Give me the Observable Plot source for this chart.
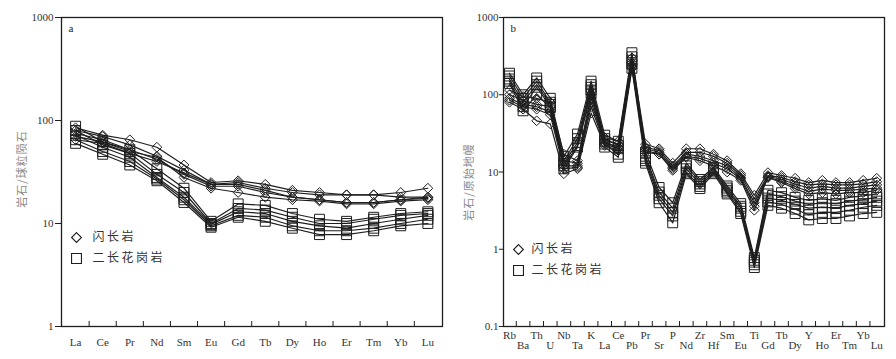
<!DOCTYPE html>
<html><head><meta charset="utf-8">
<script src="https://cdn.jsdelivr.net/npm/d3@7"></script>
<script src="https://cdn.jsdelivr.net/npm/@observablehq/plot@0.6"></script>
<style>
body{margin:0;background:#fff;}
#wrap{display:flex;width:896px;height:359px;overflow:hidden;}
#wrap svg{overflow:visible;}
#wrap svg g[aria-label$="tick label"], #wrap svg g[aria-label$="tick label"] text{font-family:"Liberation Serif","Times New Roman",serif !important;}
</style></head><body><div id="wrap"></div>
<script>
// ---- Panel a: chondrite-normalised REE ----
const reeLabels = ["La","Ce","Pr","Nd","Sm","Eu","Gd","Tb","Dy","Ho","Er","Tm","Yb","Lu"];
const dioriteREE = [
  [85,72,65,55,37,25,26,24,21,20,19,19,20,22],
  [80,70,58,45,33,24,25,22,20,19,19,19,18,18],
  [75,65,52,42,30,23,23,20,18,17,16,16,17,17.5],
  [70,62,50,44,28,22,20,18,17,16.5,15.5,15.5,16.5,17],
  [65,60,48,40,31,24,24,21,18,17,16,16,17,18]
];
const graniteREE = [
  [88,62,52,34,22,10.5,15.5,15,12.5,11,10.5,11.5,12.5,13],
  [80,58,48,30,20,10,14,13.5,11.5,10,10,11,12,12.5],
  [72,55,44,28,18,9.8,13,12.5,10.5,9.5,9,10,11,12],
  [65,50,40,27,17,9.5,12,11.5,9.5,8.5,8.5,9,10,11],
  [60,47,37,26,16,9.2,11.5,10.5,9,7.8,7.8,8.5,9.5,10]
];
const yTicksA = [1,10,100,1000];

// ---- Panel b: primitive-mantle-normalised trace elements ----
const traceLabels = ["Rb","Ba","Th","U","Nb","Ta","K","La","Ce","Pb","Pr","Sr","P","Nd","Zr","Hf","Sm","Eu","Ti","Gd","Tb","Dy","Y","Ho","Er","Tm","Yb","Lu"];
const dioriteTrace = [
  [115,95,90,80,17,14,100,28,25,300,23,20,13,20,20,17,14,9.5,5,9.8,9,8.3,7.3,7.8,7.3,7.3,7.8,8.3],
  [100,85,75,70,14,13,90,26,23,260,21,19,12,18,18,16,13,9,4.5,9,8.5,7.5,6.8,7,6.8,6.8,7,7.5],
  [90,75,70,60,12,12,80,24,21,240,20,18,11.5,17,16,14,12,8.5,4,8.8,8,7,6.2,6.5,6.2,6.2,6.5,6.8],
  [85,70,65,55,11,11.5,70,23,20,220,19,17,11,16,15,13,11,8.2,3.6,8.5,7.6,6.5,5.6,6,5.8,5.8,6,6.2],
  [80,65,46,42,9.5,11,58,22,19,230,18,17,10.5,15.5,14,12,10,7.8,3.2,8.5,7.3,6.1,5.2,5.4,5.2,5.4,5.4,5.8]
];
const graniteTrace = [
  [190,100,165,90,16,31,150,30,25,350,18,6.3,4,13,8,11.5,6.6,3.9,0.78,5.8,5.4,4.7,4.3,4.5,4.3,4.7,4.9,5.2],
  [175,90,150,80,14,27,135,27,22,310,16,5.5,3.4,12,7.5,11,6.2,3.6,0.72,5.2,4.8,4.2,3.8,4,3.9,4.2,4.4,4.7],
  [160,80,135,75,13,24,125,25,20,280,15,5,3,11,7,10.5,5.8,3.4,0.68,4.6,4.3,3.8,3.4,3.5,3.4,3.7,3.9,4.2],
  [150,70,125,70,12,22,115,23,17,250,14,4.5,2.7,10,6.5,10,5.5,3.1,0.63,4.1,3.8,3.3,2.8,3,3,3.2,3.5,3.7],
  [140,62,100,68,11,21,105,21,15.5,220,13,4,2.2,9.5,6.1,9.5,5.2,2.9,0.58,3.7,3.4,2.9,2.4,2.5,2.5,2.7,2.9,3.0]
];
const yTicksB = [0.1,1,10,100,1000];

const legendNames = ["闪长岩","二长花岗岩"];
const yTitles = ["岩石/球粒陨石","岩石/原始地幔"];

function rows(series, group) {
  return series.flatMap((s, k) => s.map((v, i) => ({i, v, s: group + k})));
}

const INK = "#1e1e1e";
const serif = "'Liberation Serif','Times New Roman',serif";
const cjk = "'Noto Sans CJK SC',sans-serif";

function panel(opts) {
  const {labels, dio, gra, yTicks, yDomain, letter, title, marginLeft, marginRight,
         xDomain, alternate, tickSizeY, tickPadY, titleDx, titleDy, legDy, legTextDx} = opts;
  const D = rows(dio, "d"), G = rows(gra, "g");
  const idx = d3.range(labels.length);
  const half = d3.range(0.5, labels.length - 1, 1);
  const marks = [
    Plot.line(G, {x: "i", y: "v", z: "s", stroke: INK, strokeWidth: 1.2}),
    Plot.line(D, {x: "i", y: "v", z: "s", stroke: INK, strokeWidth: 1.2}),
    Plot.dot(G, {x: "i", y: "v", symbol: "square2", r: 6.3, stroke: INK, strokeWidth: 1, fill: "none"}),
    Plot.dot(D, {x: "i", y: "v", symbol: "diamond2", r: 4.4, stroke: INK, strokeWidth: 1, fill: "none"}),
    Plot.frame({stroke: INK, strokeWidth: 1.3}),
    Plot.axisY({ticks: yTicks, tickSize: tickSizeY, tickPadding: tickPadY, tickFormat: d => String(d),
      label: null, fill: "#333", stroke: INK, fontFamily: serif, fontSize: 11}),
    Plot.axisX(half, {tickSize: -5, tickFormat: () => "", label: null, stroke: INK})
  ];
  if (alternate) {
    marks.push(Plot.axisX(idx.filter(i => i % 2 === 0), {tickSize: 0, tickPadding: 5, tickFormat: i => labels[i], label: null, fill: "#333", fontFamily: serif, fontSize: 11}));
    marks.push(Plot.axisX(idx.filter(i => i % 2 === 1), {tickSize: 0, tickPadding: 15, tickFormat: i => labels[i], label: null, fill: "#333", fontFamily: serif, fontSize: 11}));
  } else {
    marks.push(Plot.axisX(idx, {tickSize: 0, tickPadding: 12, tickFormat: i => labels[i], label: null, fill: "#333", fontFamily: serif, fontSize: 11}));
  }
  marks.push(
    Plot.text([title], {frameAnchor: "left", rotate: -90, dx: -titleDx, dy: titleDy, textAnchor: "middle", lineAnchor: "middle", fill: "#8a8a8a", fontFamily: cjk, fontSize: 11}),
    Plot.text([letter], {frameAnchor: "top-left", dx: 7, dy: 11, lineAnchor: "middle", textAnchor: "start", fill: "#222", fontFamily: serif, fontSize: 11}),
    Plot.dot([0], {frameAnchor: "top-left", dx: 15, dy: legDy, symbol: "diamond2", r: 4.4, stroke: INK, strokeWidth: 1.1, fill: "none"}),
    Plot.dot([0], {frameAnchor: "top-left", dx: 15, dy: legDy + 21, symbol: "square2", r: 6.3, stroke: INK, strokeWidth: 1.1, fill: "none"}),
    Plot.text([legendNames[0]], {frameAnchor: "top-left", dx: legTextDx, dy: legDy, textAnchor: "start", lineAnchor: "middle", fill: "#333", fontFamily: cjk, fontSize: 12}),
    Plot.text([legendNames[1]], {frameAnchor: "top-left", dx: legTextDx, dy: legDy + 21, textAnchor: "start", lineAnchor: "middle", fill: "#333", fontFamily: cjk, fontSize: 12})
  );
  const svg = Plot.plot({
    width: 448, height: 359,
    marginLeft, marginRight, marginTop: 17, marginBottom: 33,
    style: {fontFamily: serif, fontSize: "11px", background: "#fff", color: "#333"},
    x: {type: "linear", domain: xDomain, axis: null},
    y: {type: "log", domain: yDomain, axis: null},
    marks
  });
  svg.querySelectorAll("text").forEach(t => {
    if (legendNames.includes(t.textContent)) t.setAttribute("letter-spacing", "2.5");
    if (yTitles.includes(t.textContent)) t.setAttribute("letter-spacing", "1");
  });
  return svg;
}

const wrap = document.getElementById("wrap");
wrap.appendChild(panel({
  labels: reeLabels, dio: dioriteREE, gra: graniteREE, yTicks: yTicksA, yDomain: [1, 1000],
  letter: "a", title: yTitles[0], marginLeft: 61, marginRight: 6, xDomain: [-0.52, 13.54],
  alternate: false, tickSizeY: 6, tickPadY: 2, titleDx: 39, titleDy: -3, legDy: 220, legTextDx: 31
}));
wrap.appendChild(panel({
  labels: traceLabels, dio: dioriteTrace, gra: graniteTrace, yTicks: yTicksB, yDomain: [0.1, 1000],
  letter: "b", title: yTitles[1], marginLeft: 55, marginRight: 12, xDomain: [-0.44, 27.57],
  alternate: true, tickSizeY: 4, tickPadY: 1, titleDx: 34, titleDy: 10, legDy: 232, legTextDx: 28
}));
</script></body></html>
